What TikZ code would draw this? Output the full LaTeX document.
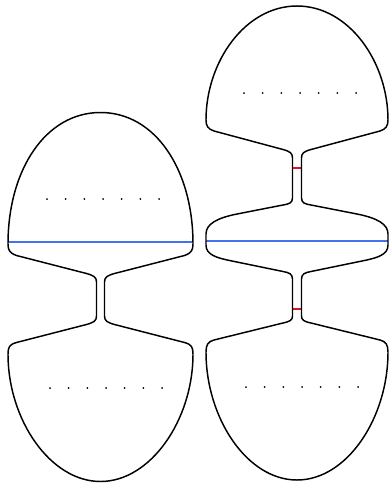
\documentclass[tikz,border=0pt]{standalone}
\usepackage{tikz}
\usetikzlibrary{positioning}
\definecolor{cutblue}{RGB}{72,112,235}
\definecolor{cutred}{RGB}{220,20,40}
\tikzset{
    outline/.style={line width=1.1pt, line cap=round, line join=round}, % surface boundary
    bluecut/.style={line width=1.3pt, cutblue}, % separating curve
    redcut/.style={line width=1.1pt, cutred}, % curve round the neck
    puncture/.style={fill=black}, % marked points
}
\begin{document}
\begin{tikzpicture}[x=0.75pt, y=-0.75pt]
    \useasboundingbox (0,0) rectangle (389,483);

    % left surface
    \begin{scope}[shift={(100.5,0)}]
        \draw[bluecut] (-92.5,242) -- (92.5,242);
        \foreach \s in {1,-1} {
            \draw[outline, xscale=\s] (0,112.5) .. controls (55,112.5) and (92.5,170) .. (92.5,244)
                .. controls (92.5,250) and (91,253) .. (84,255.5)
                -- (14,273.5) .. controls (7,275.5) and (4,277) .. (4,282)
                -- (4,316) .. controls (4,321) and (7,322.5) .. (14,324.5)
                -- (84,342.5) .. controls (91,344.5) and (92.5,347) .. (92.5,354)
                .. controls (92.5,420) and (50,481.5) .. (0,481.5);
        }
    \end{scope}
    \foreach \i in {0,...,6} {
        \fill[puncture] (47+18.67*\i,199) circle (0.75pt);
        \fill[puncture] (50+18.67*\i,388) circle (0.75pt);
    }

    % right surface
    \begin{scope}[shift={(297,0)}]
        \draw[bluecut] (-91,241) -- (91,241);
        \draw[redcut] (-4.5,168) -- (4.5,168);
        \draw[redcut] (-4.5,309) -- (4.5,309);
        \foreach \s in {1,-1} {
            \draw[outline, xscale=\s] (0,6) .. controls (52,6) and (91,62) .. (91,120)
                .. controls (91,126) and (89,129) .. (83,131)
                -- (14,149.5) .. controls (7,151.5) and (4.5,153) .. (4.5,158)
                -- (4.5,198) .. controls (4.5,203) and (8,204) .. (14,205)
                -- (60,214) .. controls (80,218) and (91,224) .. (91,234)
                -- (91,245) .. controls (91,255) and (80,258) .. (65,261)
                -- (14,271.5) .. controls (8,272.5) and (4.5,274) .. (4.5,279)
                -- (4.5,316) .. controls (4.5,320) and (7,321.5) .. (14,323)
                -- (83,340) .. controls (89,341.5) and (91,345) .. (91,352)
                .. controls (91,418) and (50,480) .. (0,480);
        }
    \end{scope}
    \foreach \i in {0,...,6} {
        \fill[puncture] (244+18.67*\i,93) circle (0.75pt);
        \fill[puncture] (246+18.67*\i,387) circle (0.75pt);
    }
\end{tikzpicture}
\end{document}
